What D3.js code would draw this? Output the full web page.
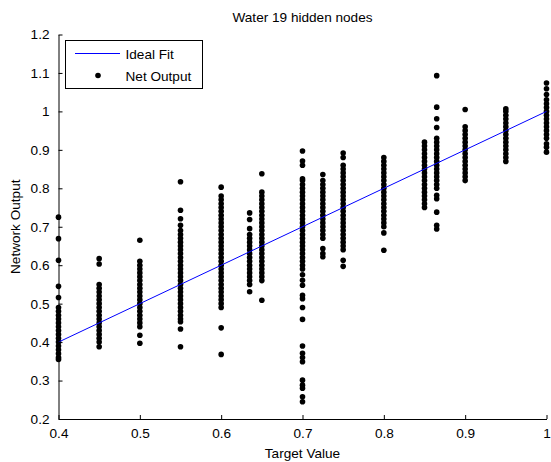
<!DOCTYPE html>
<html>
<head>
<meta charset="utf-8">
<script src="https://cdn.jsdelivr.net/npm/d3@7"></script>
<style>
  html, body { margin: 0; padding: 0; background: #fff; }
  svg { display: block; font-family: "Liberation Sans", Arial, sans-serif; }
</style>
</head>
<body>
<svg id="chart" width="551" height="462"></svg>
<script>
// ---- data ----
const title = "Water 19 hidden nodes";
const xLabel = "Target Value";
const yLabel = "Network Output";
const xTicks = [0.4, 0.5, 0.6, 0.7, 0.8, 0.9, 1];
const yTicks = [0.2, 0.3, 0.4, 0.5, 0.6, 0.7, 0.8, 0.9, 1, 1.1, 1.2];
const idealFit = [0.4, 1.0];

const targets = [0.4, 0.45, 0.5, 0.55, 0.6, 0.635, 0.65, 0.7, 0.725, 0.75, 0.8, 0.85, 0.865, 0.9, 0.95, 1.0];

const out040 = [0.725,0.669,0.613,0.545,0.516,0.49,0.48,0.47,0.46,0.45,0.44,0.43,0.42,0.41,0.40,0.39,0.38,0.37,0.36,0.355];
const out045 = [0.617,0.603,0.55,0.54,0.53,0.52,0.51,0.50,0.49,0.48,0.47,0.46,0.45,0.44,0.43,0.42,0.41,0.40,0.388];
const out050 = [0.665,0.61,0.60,0.59,0.58,0.57,0.56,0.55,0.54,0.53,0.52,0.51,0.50,0.49,0.48,0.47,0.46,0.45,0.44,0.418,0.397];
const out055 = [0.817,0.743,0.721,0.704,0.69,0.68,0.67,0.66,0.65,0.64,0.63,0.62,0.61,0.60,0.59,0.58,0.57,0.56,0.55,0.54,0.53,0.52,0.51,0.50,0.49,0.48,0.47,0.46,0.453,0.434,0.388];
const out060 = [0.803,0.78,0.77,0.76,0.75,0.74,0.73,0.72,0.71,0.70,0.69,0.68,0.67,0.66,0.65,0.64,0.63,0.62,0.61,0.60,0.59,0.58,0.57,0.56,0.55,0.54,0.53,0.52,0.51,0.50,0.49,0.437,0.368];
const out0635 = [0.736,0.719,0.695,0.68,0.67,0.66,0.65,0.64,0.63,0.62,0.61,0.60,0.59,0.58,0.57,0.56,0.55,0.531];
const out065 = [0.838,0.79,0.78,0.77,0.76,0.75,0.74,0.73,0.72,0.71,0.70,0.69,0.68,0.67,0.66,0.65,0.64,0.63,0.62,0.61,0.60,0.59,0.58,0.57,0.56,0.509];
const out070 = [0.897,0.871,0.860,0.825,0.82,0.81,0.80,0.79,0.78,0.77,0.76,0.75,0.74,0.73,0.72,0.71,0.70,0.69,0.68,0.67,0.66,0.65,0.64,0.63,0.62,0.61,0.60,0.59,0.575,0.561,0.548,0.522,0.513,0.49,0.459,0.39,0.371,0.36,0.349,0.301,0.288,0.28,0.258,0.245];
const out0725 = [0.836,0.82,0.81,0.80,0.79,0.78,0.77,0.76,0.75,0.74,0.73,0.72,0.71,0.70,0.69,0.68,0.67,0.643,0.63,0.622];
const out075 = [0.892,0.880,0.86,0.85,0.84,0.83,0.82,0.81,0.80,0.79,0.78,0.77,0.76,0.75,0.74,0.73,0.72,0.71,0.70,0.69,0.68,0.67,0.66,0.65,0.64,0.613,0.597];
const out080 = [0.88,0.87,0.86,0.85,0.84,0.83,0.82,0.81,0.80,0.79,0.78,0.77,0.76,0.75,0.74,0.73,0.72,0.71,0.70,0.684,0.639];
const out085 = [0.92,0.91,0.90,0.89,0.88,0.87,0.86,0.85,0.84,0.83,0.82,0.81,0.80,0.79,0.78,0.77,0.76,0.75];
const out0865 = [1.093,1.011,0.981,0.958,0.93,0.92,0.91,0.90,0.89,0.88,0.87,0.86,0.85,0.84,0.83,0.82,0.81,0.80,0.782,0.773,0.738,0.704,0.694];
const out090 = [1.005,0.96,0.95,0.94,0.93,0.92,0.91,0.90,0.89,0.88,0.87,0.86,0.85,0.84,0.83,0.82];
const out095 = [1.007,1.00,0.99,0.98,0.97,0.96,0.95,0.94,0.93,0.92,0.91,0.90,0.89,0.88,0.87];
const out100 = [1.074,1.059,1.044,1.03,1.02,1.01,1.00,0.99,0.98,0.97,0.96,0.95,0.94,0.93,0.916,0.907,0.894];

const outputs = [out040,out045,out050,out055,out060,out0635,out065,out070,out0725,out075,out080,out085,out0865,out090,out095,out100];

// ---- layout ----
const svg = d3.select("#chart");
const mLeft = 58.5, mRight = 546.5, mTop = 34.5, mBottom = 419;
const x = d3.scaleLinear().domain([0.4, 1]).range([mLeft, mRight]);
const y = d3.scaleLinear().domain([0.2, 1.2]).range([mBottom, mTop]);
const fontSize = 13.6;
const dotR = 2.8;

// points
const pts = [];
targets.forEach((t, i) => outputs[i].forEach(v => pts.push([t, v])));
svg.append("g").selectAll("circle").data(pts).join("circle")
  .attr("cx", d => x(d[0])).attr("cy", d => y(d[1])).attr("r", dotR).attr("fill", "#000");

// ideal fit line
svg.append("line")
  .attr("x1", x(idealFit[0])).attr("y1", y(idealFit[0]))
  .attr("x2", x(idealFit[1])).attr("y2", y(idealFit[1]))
  .attr("stroke", "#0000ff").attr("stroke-width", 1);

// axes
const xAxis = svg.append("g").attr("transform", `translate(0,${mBottom})`)
  .call(d3.axisBottom(x).tickValues(xTicks).tickSizeInner(-4).tickSizeOuter(0).tickPadding(9).tickFormat(d => d3.format("")(d)));
const yAxis = svg.append("g").attr("transform", `translate(${mLeft},0)`)
  .call(d3.axisLeft(y).tickValues(yTicks).tickSizeInner(-4).tickSizeOuter(0).tickPadding(9).tickFormat(d => d3.format("")(d)));
[xAxis, yAxis].forEach(a => {
  a.selectAll("path.domain").attr("stroke", "#000").attr("stroke-width", 1);
  a.selectAll(".tick line").attr("stroke", "#000");
  a.selectAll(".tick text").attr("fill", "#000").style("font-size", fontSize + "px")
    .style("font-family", "'Liberation Sans', Arial, sans-serif");
});
xAxis.selectAll(".tick text").attr("y", 9);

// title & labels
svg.append("text").attr("x", (mLeft + mRight) / 2).attr("y", 22).attr("text-anchor", "middle")
  .style("font-size", fontSize + "px").text(title);
svg.append("text").attr("x", (mLeft + mRight) / 2).attr("y", 458).attr("text-anchor", "middle")
  .style("font-size", fontSize + "px").text(xLabel);
svg.append("text").attr("transform", `translate(20,${(mTop + mBottom) / 2}) rotate(-90)`)
  .attr("text-anchor", "middle").style("font-size", fontSize + "px").text(yLabel);

// legend
const lg = svg.append("g");
lg.append("rect").attr("x", 65.5).attr("y", 40.5).attr("width", 137).attr("height", 48)
  .attr("fill", "#fff").attr("stroke", "#000").attr("stroke-width", 1);
lg.append("line").attr("x1", 75).attr("x2", 120).attr("y1", 53.5).attr("y2", 53.5)
  .attr("stroke", "#0000ff").attr("stroke-width", 1);
lg.append("text").attr("x", 125.5).attr("y", 58.5).style("font-size", fontSize + "px").text("Ideal Fit");
lg.append("circle").attr("cx", 98).attr("cy", 75.5).attr("r", dotR).attr("fill", "#000");
lg.append("text").attr("x", 125.5).attr("y", 80.5).style("font-size", fontSize + "px").text("Net Output");
</script>
</body>
</html>
